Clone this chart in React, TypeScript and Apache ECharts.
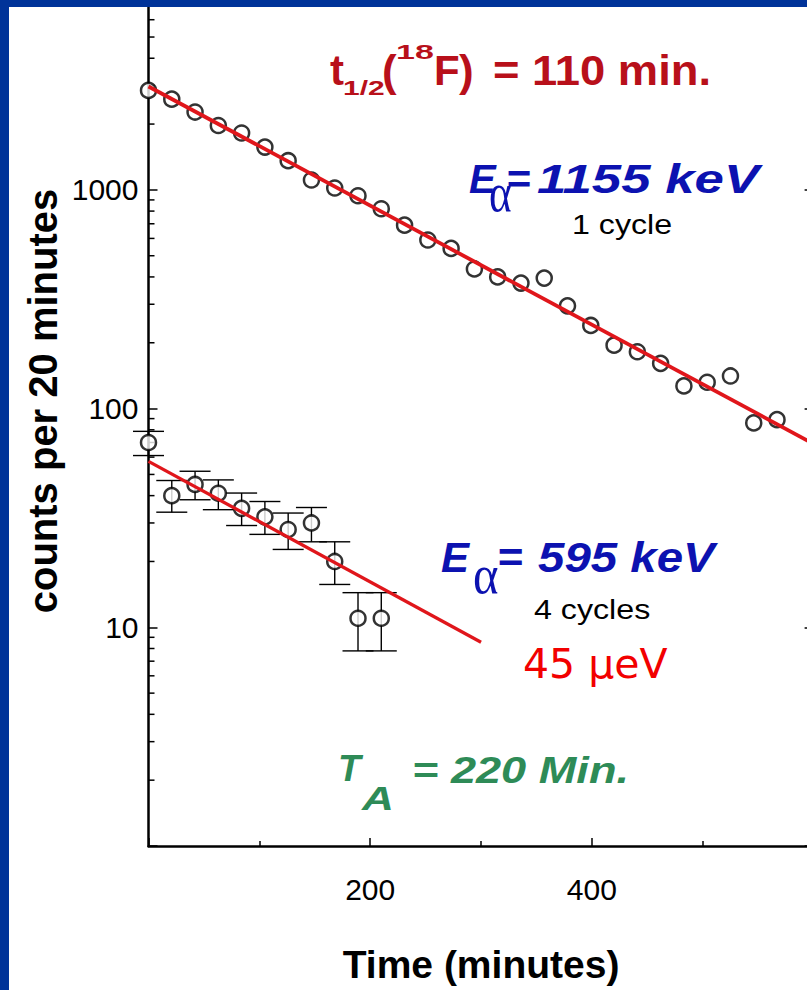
import React, { useEffect, useRef } from "react";
import * as echarts from "echarts";

// ---------- data ----------
const timesUpper = [0, 21, 42, 63, 84, 105, 126, 147, 168, 189, 210, 231, 252, 273, 294, 315, 336, 357, 378, 399, 420, 441, 462, 483, 504, 525, 546, 567];
const countsUpper = [2850, 2600, 2270, 1970, 1820, 1570, 1360, 1110, 1020, 940, 820, 690, 590, 540, 435, 400, 375, 395, 295, 240, 195, 182, 161, 127, 132, 141, 86, 89];

const timesLower = [0, 21, 42, 63, 84, 105, 126, 147, 168, 189, 210];
const countsLower = [70, 40, 45, 41, 35, 32, 28, 30, 20, 11, 11];
const errLowLower = [61.0, 33.6, 38.3, 34.5, 29.2, 26.6, 22.7, 24.6, 15.7, 7.8, 7.8];
const errHighLower = [78.7, 46.9, 51.7, 47.2, 41.1, 37.6, 33.3, 35.3, 24.6, 14.4, 14.4];

// fitted decay lines: [time, counts] end points
const fitUpper = [[0, 2970], [600, 69]];
const fitLower = [[0, 57.4], [300, 8.55]];

const xTickLabels = [200, 400];
const yTickLabels = [10, 100, 1000];
const yMinorTicks = [
  2, 3, 4, 5, 6, 7, 8, 9,
  20, 30, 40, 50, 60, 70, 80, 90,
  200, 300, 400, 500, 600, 700, 800, 900,
  2000, 3000, 4000, 5000, 6000, 7000, 8000, 9000,
];

// ---------- styling ----------
const SANS = "Liberation Sans";
const BLACK = "#000000";
const FIT_RED = "#e0161b";
const TITLE_RED = "#b8101a";
const BLUE = "#0c12b0";
const GREEN = "#2e8b57";
const BORDER_BLUE = "#003399";

// the chart canvas is larger than the page and shifted up by OY so that the
// plot area can extend past the top / right edge of the picture
const OY = 40;
const CW = 830;
const CH = 1030;

type TxtOpts = {
  color: string;
  weight?: string;
  style?: string;
  family?: string;
  sx?: number;
};

function txt(text: string, left: number, baseline: number, fs: number, o: TxtOpts) {
  return {
    type: "text",
    x: left,
    y: baseline - 0.3465 * fs + OY,
    scaleX: o.sx ?? 1,
    z: 100,
    style: {
      text,
      fontSize: fs,
      fontFamily: o.family ?? SANS,
      fontWeight: o.weight ?? "normal",
      fontStyle: o.style ?? "normal",
      fill: o.color,
      align: "left",
      verticalAlign: "middle",
      textAlign: "left",
      textVerticalAlign: "middle",
    },
  };
}

export default function App() {
  const ref = useRef<HTMLDivElement>(null);

  useEffect(() => {
    if (!ref.current) return;
    const chart = echarts.init(ref.current, null, { renderer: "svg" });

    const upperData = timesUpper.map((t, i) => [t, countsUpper[i]]);
    const lowerData = timesLower.map((t, i) => [t, countsLower[i]]);
    const errData = timesLower.map((t, i) => [t, errLowLower[i], errHighLower[i]]);
    const minorData = yMinorTicks.map((v) => [0, v]);

    const axisLineStyle = { color: BLACK, width: 2.5 };
    const tickLineStyle = { color: BLACK, width: 1.5 };

    const circleStyle = { color: "#ffffff", borderColor: BLACK, borderWidth: 2.5 };

    const option: any = {
      animation: false,
      backgroundColor: "#ffffff",
      grid: { left: 148.5, right: CW - 813.6, top: OY - 28.8, bottom: CH - (846 + OY), containLabel: false },
      xAxis: {
        type: "value",
        min: 0,
        max: 600,
        interval: 200,
        axisLine: { show: true, onZero: false, lineStyle: axisLineStyle },
        axisTick: { show: true, inside: true, length: 8, lineStyle: tickLineStyle },
        minorTick: { show: true, splitNumber: 2, length: 5, lineStyle: tickLineStyle },
        splitLine: { show: false },
        minorSplitLine: { show: false },
        axisLabel: {
          formatter: (v: number) => (xTickLabels.includes(Math.round(v)) ? String(Math.round(v)) : ""),
          fontSize: 30,
          fontFamily: SANS,
          color: BLACK,
          margin: 28,
        },
        name: "Time (minutes)",
        nameLocation: "middle",
        nameGap: 99,
        nameTextStyle: { fontSize: 39, fontWeight: "bold", fontFamily: SANS, color: BLACK },
      },
      yAxis: [
        {
          type: "log",
          logBase: 10,
          min: 1,
          max: 10000,
          position: "left",
          axisLine: { show: true, onZero: false, lineStyle: axisLineStyle },
          axisTick: { show: true, inside: true, length: 9, lineStyle: tickLineStyle },
          splitLine: { show: false },
          axisLabel: {
            formatter: (v: number) => (yTickLabels.includes(Math.round(v)) ? String(Math.round(v)) : ""),
            fontSize: 30,
            fontFamily: SANS,
            color: BLACK,
            margin: 10,
          },
        },
        {
          type: "log",
          logBase: 10,
          min: 1,
          max: 10000,
          position: "right",
          axisLine: { show: true, onZero: false, lineStyle: axisLineStyle },
          axisTick: { show: true, inside: true, length: 9, lineStyle: tickLineStyle },
          splitLine: { show: false },
          axisLabel: { show: false },
        },
      ],
      series: [
        {
          type: "custom",
          name: "minor ticks",
          xAxisIndex: 0,
          yAxisIndex: 0,
          silent: true,
          z: 2,
          data: minorData,
          renderItem: (_p: any, api: any) => {
            const p = api.coord([0, api.value(1)]);
            return {
              type: "line",
              shape: { x1: p[0], y1: p[1], x2: p[0] + 6, y2: p[1] },
              style: { stroke: BLACK, lineWidth: 1.5 },
            };
          },
        },
        {
          type: "custom",
          name: "error bars",
          xAxisIndex: 0,
          yAxisIndex: 0,
          z: 3,
          data: errData,
          encode: { x: 0, y: [1, 2] },
          renderItem: (_p: any, api: any) => {
            const x = api.value(0);
            const lo = api.coord([x, api.value(1)]);
            const hi = api.coord([x, api.value(2)]);
            const hw = 15.5;
            const st = { stroke: BLACK, lineWidth: 1.4 };
            return {
              type: "group",
              children: [
                { type: "line", shape: { x1: lo[0], y1: lo[1], x2: hi[0], y2: hi[1] }, style: st },
                { type: "line", shape: { x1: lo[0] - hw, y1: lo[1], x2: lo[0] + hw, y2: lo[1] }, style: st },
                { type: "line", shape: { x1: hi[0] - hw, y1: hi[1], x2: hi[0] + hw, y2: hi[1] }, style: st },
              ],
            };
          },
        },
        {
          type: "scatter",
          name: "E = 1155 keV",
          data: upperData,
          symbol: "circle",
          symbolSize: 15,
          itemStyle: circleStyle,
          clip: false,
          z: 4,
        },
        {
          type: "scatter",
          name: "E = 595 keV",
          data: lowerData,
          symbol: "circle",
          symbolSize: 15,
          itemStyle: circleStyle,
          clip: false,
          z: 4,
        },
        {
          type: "line",
          name: "fit 1155 keV",
          data: fitUpper,
          symbol: "none",
          lineStyle: { color: FIT_RED, width: 3.8 },
          clip: true,
          z: 5,
        },
        {
          type: "line",
          name: "fit 595 keV",
          data: fitLower,
          symbol: "none",
          lineStyle: { color: FIT_RED, width: 3.3 },
          clip: false,
          z: 5,
        },
      ],
      graphic: [
        // y-axis title
        {
          type: "text",
          x: 42.6,
          y: 401 + OY,
          rotation: Math.PI / 2,
          z: 100,
          style: {
            text: "counts per 20 minutes",
            fontSize: 40,
            fontFamily: SANS,
            fontWeight: "bold",
            fill: BLACK,
            align: "center",
            verticalAlign: "middle",
            textAlign: "center",
            textVerticalAlign: "middle",
          },
        },
        // title t1/2(18F) = 110 min.
        txt("t", 330, 85, 42, { color: TITLE_RED, weight: "bold" }),
        txt("1/2", 343, 95, 20, { color: TITLE_RED, weight: "bold", sx: 1.5 }),
        txt("(", 382, 86, 44, { color: TITLE_RED, weight: "bold" }),
        txt("18", 396, 59, 20, { color: TITLE_RED, weight: "bold", sx: 1.7 }),
        txt("F", 434, 85, 42, { color: TITLE_RED, weight: "bold" }),
        txt(")", 459, 86, 44, { color: TITLE_RED, weight: "bold" }),
        txt("= 110 min.", 493, 85, 42, { color: TITLE_RED, weight: "bold", sx: 1.08 }),
        // E alpha = 1155 keV
        txt("E", 469, 193.3, 40, { color: BLUE, weight: "bold", style: "italic" }),
        txt("α", 489, 211, 54, { color: BLUE, family: "Liberation Serif", sx: 0.8 }),
        txt("=", 506, 193.3, 40, { color: BLUE, weight: "bold", style: "italic", sx: 1.05 }),
        txt("1155 keV", 537, 193.3, 40, { color: BLUE, weight: "bold", style: "italic", sx: 1.32 }),
        txt("1 cycle", 572, 234.3, 28, { color: BLACK, sx: 1.15 }),
        // E alpha = 595 keV
        txt("E", 441, 571.7, 42, { color: BLUE, weight: "bold", style: "italic" }),
        txt("α", 473, 593, 54, { color: BLUE, family: "Liberation Serif", sx: 0.9 }),
        txt("=", 497, 571.7, 42, { color: BLUE, weight: "bold", style: "italic", sx: 1.05 }),
        txt("595 keV", 538, 571.7, 42, { color: BLUE, weight: "bold", style: "italic", sx: 1.13 }),
        txt("4 cycles", 534, 619.3, 28, { color: BLACK, sx: 1.15 }),
        txt("45 μeV", 523, 678.3, 41, { color: "#f20000", family: "DejaVu Sans" }),
        // T_A = 220 Min.
        txt("T", 338, 781.7, 37, { color: GREEN, weight: "bold", style: "italic" }),
        txt("A", 362, 809.3, 34, { color: GREEN, weight: "bold", style: "italic", sx: 1.3 }),
        txt("= 220 Min.", 412, 783.3, 37, { color: GREEN, weight: "bold", style: "italic", sx: 1.22 }),
        // slide border
        { type: "rect", z: 200, shape: { x: 0, y: OY, width: 9, height: CH - OY }, style: { fill: BORDER_BLUE } },
        { type: "rect", z: 200, shape: { x: 0, y: OY, width: CW, height: 7 }, style: { fill: BORDER_BLUE } },
      ],
    };

    chart.setOption(option);
    return () => chart.dispose();
  }, []);

  return (
    <div style={{ position: "fixed", left: 0, top: 0, width: 807, height: 990, overflow: "hidden", background: "#ffffff" }}>
      <div ref={ref} style={{ position: "absolute", left: 0, top: -OY, width: CW, height: CH }} />
    </div>
  );
}
